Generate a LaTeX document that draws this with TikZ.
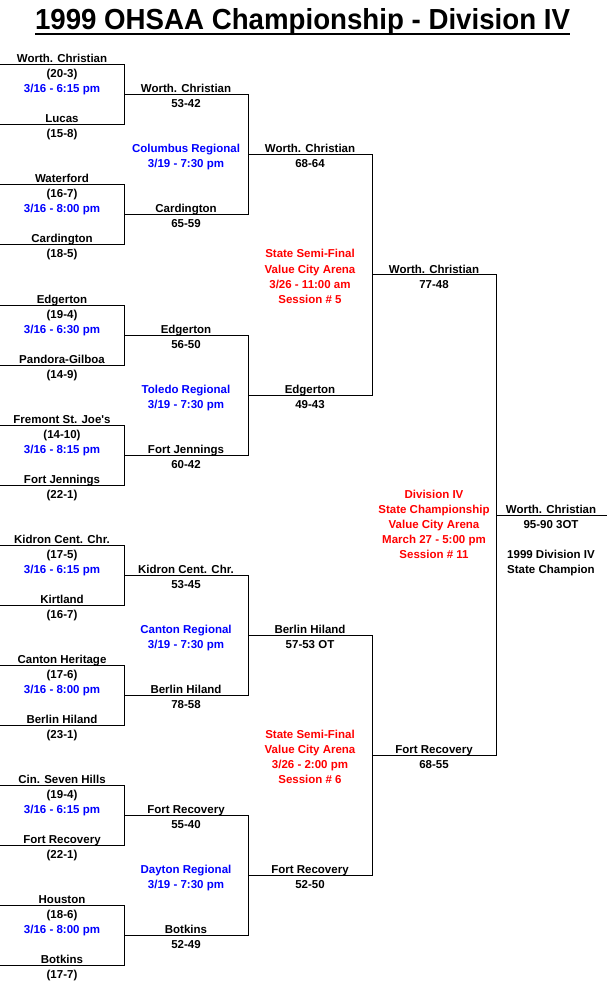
\documentclass[tikz,border=0pt]{standalone}
\usepackage{fontspec}
\setmainfont{Liberation Sans}[Ligatures=TeXOff]
\definecolor{dateblue}{RGB}{0,0,255}
\definecolor{venuered}{RGB}{255,0,0}
\tikzset{
  lbl/.style={font=\bfseries\fontsize{11.5}{13}\selectfont, anchor=base, inner sep=0pt, text=black, yshift=-1pt},
  blu/.style={lbl, text=dateblue},
  rd/.style={lbl, text=venuered},
  br/.style={line width=1pt, draw=black, line join=miter}
}
% first round game: id, Y, top team, top record, date, bottom team, bottom record
\newcommand\rfirst[7]{%
  \coordinate (#1tl) at (0,#2);
  \coordinate (#1tr) at (124,#2);
  \coordinate (#1br) at (124,#2+60);
  \coordinate (#1bl) at (0,#2+60);
  \draw[br] (#1tl) -- (#1tr) -- (#1br) -- (#1bl);
  \node[lbl] (#1n1) at (62,#2-3) {#3};
  \node[lbl] (#1r1) at (62,#2+12) {#4};
  \node[blu] (#1d)  at (62,#2+27) {#5};
  \node[lbl] (#1n2) at (62,#2+57) {#6};
  \node[lbl] (#1r2) at (62,#2+72) {#7};
}
% regional: id, Y, top team, top score, bottom team, bottom score, regional name
\newcommand\rsecond[7]{%
  \coordinate (#1tl) at (124,#2);
  \coordinate (#1tr) at (248,#2);
  \coordinate (#1br) at (248,#2+120);
  \coordinate (#1bl) at (124,#2+120);
  \draw[br] (#1tl) -- (#1tr) -- (#1br) -- (#1bl);
  \node[lbl] (#1n1) at (186,#2-3) {#3};
  \node[lbl] (#1s1) at (186,#2+12) {#4};
  \node[blu] (#1g1) at (186,#2+57) {#7};
  \node[blu] (#1g2) at (186,#2+72) {3/19 - 7:30 pm};
  \node[lbl] (#1n2) at (186,#2+117) {#5};
  \node[lbl] (#1s2) at (186,#2+132) {#6};
}
% semi-final: id, Y, top team, top score, bottom team, bottom score, date, session
\newcommand\rthird[8]{%
  \coordinate (#1tl) at (248,#2);
  \coordinate (#1tr) at (372,#2);
  \coordinate (#1br) at (372,#2+240);
  \coordinate (#1bl) at (248,#2+240);
  \draw[br] (#1tl) -- (#1tr) -- (#1br) -- (#1bl);
  \node[lbl] (#1n1) at (310,#2-3) {#3};
  \node[lbl] (#1s1) at (310,#2+12) {#4};
  \node[rd] (#1v1) at (310,#2+102) {State Semi-Final};
  \node[rd] (#1v2) at (310,#2+117) {Value City Arena};
  \node[rd] (#1v3) at (310,#2+132) {#7};
  \node[rd] (#1v4) at (310,#2+147) {#8};
  \node[lbl] (#1n2) at (310,#2+237) {#5};
  \node[lbl] (#1s2) at (310,#2+252) {#6};
}
\begin{document}
\begin{tikzpicture}[x=1pt,y=-1pt]
\useasboundingbox (0,0) rectangle (607,981);
\fill[white] (0,0) rectangle (607,981);
% title
\node[anchor=base, inner sep=0pt, font=\bfseries\fontsize{29}{32}\selectfont] (title) at (302.5,30)
  {\scalebox{0.954}[1]{1999 OHSAA Championship - Division IV}};
\coordinate (ulA) at (35,34);
\coordinate (ulB) at (570,34);
\draw[line width=2pt] (ulA) -- (ulB);
% first round
\rfirst{a}{65}{Worth. Christian}{(20-3)}{3/16 - 6:15 pm}{Lucas}{(15-8)}
\rfirst{b}{185}{Waterford}{(16-7)}{3/16 - 8:00 pm}{Cardington}{(18-5)}
\rfirst{c}{305}{Edgerton}{(19-4)}{3/16 - 6:30 pm}{Pandora-Gilboa}{(14-9)}
\rfirst{d}{425}{Fremont St. Joe's}{(14-10)}{3/16 - 8:15 pm}{Fort Jennings}{(22-1)}
\rfirst{e}{545}{Kidron Cent. Chr.}{(17-5)}{3/16 - 6:15 pm}{Kirtland}{(16-7)}
\rfirst{f}{665}{Canton Heritage}{(17-6)}{3/16 - 8:00 pm}{Berlin Hiland}{(23-1)}
\rfirst{g}{785}{Cin. Seven Hills}{(19-4)}{3/16 - 6:15 pm}{Fort Recovery}{(22-1)}
\rfirst{h}{905}{Houston}{(18-6)}{3/16 - 8:00 pm}{Botkins}{(17-7)}
% regionals
\rsecond{p}{95}{Worth. Christian}{53-42}{Cardington}{65-59}{Columbus Regional}
\rsecond{q}{335}{Edgerton}{56-50}{Fort Jennings}{60-42}{Toledo Regional}
\rsecond{r}{575}{Kidron Cent. Chr.}{53-45}{Berlin Hiland}{78-58}{Canton Regional}
\rsecond{s}{815}{Fort Recovery}{55-40}{Botkins}{52-49}{Dayton Regional}
% semi-finals
\rthird{u}{155}{Worth. Christian}{68-64}{Edgerton}{49-43}{3/26 - 11:00 am}{Session \# 5}
\rthird{v}{635}{Berlin Hiland}{57-53 OT}{Fort Recovery}{52-50}{3/26 - 2:00 pm}{Session \# 6}
% championship
\coordinate (wtl) at (372,275);
\coordinate (wtr) at (496,275);
\coordinate (wbr) at (496,755);
\coordinate (wbl) at (372,755);
\draw[br] (wtl) -- (wtr) -- (wbr) -- (wbl);
\node[lbl] (wn1) at (434,272) {Worth. Christian};
\node[lbl] (ws1) at (434,287) {77-48};
\node[lbl] (wn2) at (434,752) {Fort Recovery};
\node[lbl] (ws2) at (434,767) {68-55};
\node[rd] (c1) at (434,497) {Division IV};
\node[rd] (c2) at (434,512) {State Championship};
\node[rd] (c3) at (434,527) {Value City Arena};
\node[rd] (c4) at (434,542) {March 27 - 5:00 pm};
\node[rd] (c5) at (434,557) {Session \# 11};
% champion
\coordinate (fl) at (496,515);
\coordinate (fr) at (607,515);
\draw[br] (fl) -- (fr);
\node[lbl] (f1) at (551,512) {Worth. Christian};
\node[lbl] (f2) at (551,527) {95-90 3OT};
\node[lbl] (f3) at (551,557) {1999 Division IV};
\node[lbl] (f4) at (551,572) {State Champion};
\end{tikzpicture}
\end{document}
